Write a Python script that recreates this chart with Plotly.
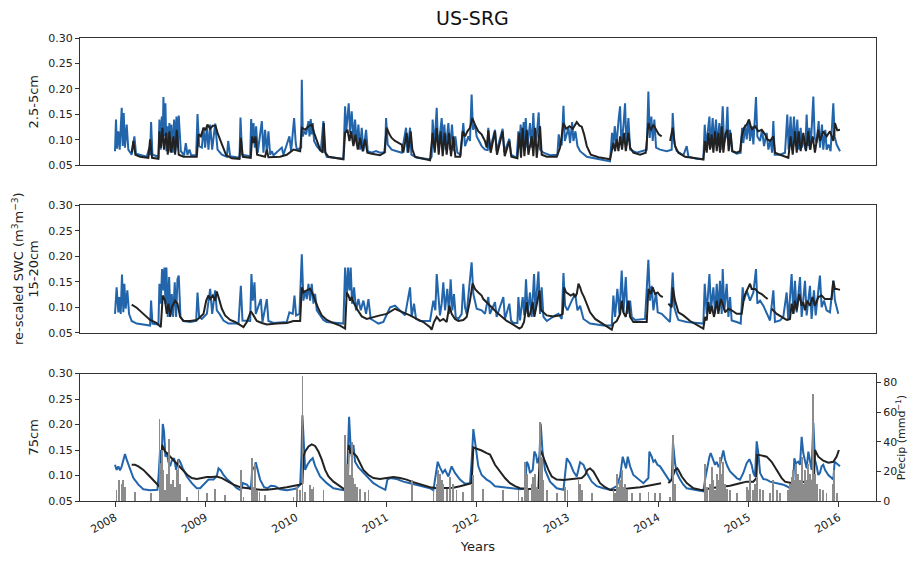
import pandas as pd
import plotly.graph_objects as go

# ---------------- DATA (decimal years, SWC m3/m3, precip mm/d) ----------------
P1_BLUE_T = [2008.000, 2008.011, 2008.022, 2008.037, 2008.052, 2008.074, 2008.085, 2008.096, 2008.110, 2008.129,
             2008.147, 2008.184, 2008.214, 2008.232, 2008.350, 2008.379, 2008.387, 2008.398, 2008.413, 2008.479,
             2008.490, 2008.505, 2008.516, 2008.527, 2008.534, 2008.545, 2008.556, 2008.567, 2008.578, 2008.589,
             2008.600, 2008.611, 2008.622, 2008.637, 2008.652, 2008.667, 2008.678, 2008.692, 2008.703, 2008.726,
             2008.762, 2008.781, 2008.799, 2008.821, 2008.840, 2008.895, 2008.910, 2008.928, 2008.958, 2008.976,
             2008.994, 2009.013, 2009.031, 2009.050, 2009.072, 2009.105, 2009.131, 2009.179, 2009.234, 2009.249,
             2009.271, 2009.374, 2009.385, 2009.403, 2009.492, 2009.503, 2009.517, 2009.529, 2009.543, 2009.558,
             2009.576, 2009.621, 2009.639, 2009.657, 2009.676, 2009.694, 2009.713, 2009.731, 2009.750, 2009.842,
             2009.860, 2009.926, 2009.945, 2009.978, 2009.996, 2010.008, 2010.056, 2010.063, 2010.074, 2010.089,
             2010.111, 2010.137, 2010.148, 2010.162, 2010.173, 2010.184, 2010.199, 2010.229, 2010.273, 2010.302,
             2010.317, 2010.339, 2010.523, 2010.542, 2010.553, 2010.568, 2010.582, 2010.597, 2010.615, 2010.634,
             2010.652, 2010.671, 2010.689, 2010.707, 2010.726, 2010.744, 2010.774, 2010.792, 2010.836, 2010.884,
             2010.929, 2010.984, 2010.995, 2011.013, 2011.057, 2011.113, 2011.168, 2011.216, 2011.231, 2011.260,
             2011.275, 2011.334, 2011.481, 2011.499, 2011.510, 2011.529, 2011.555, 2011.569, 2011.591, 2011.610,
             2011.625, 2011.640, 2011.654, 2011.684, 2011.702, 2011.724, 2011.743, 2011.761, 2011.783, 2011.820,
             2011.849, 2011.868, 2011.905, 2011.923, 2011.941, 2011.956, 2011.978, 2011.997, 2012.026, 2012.052,
             2012.089, 2012.118, 2012.125, 2012.143, 2012.199, 2012.217, 2012.283, 2012.302, 2012.357, 2012.376,
             2012.438, 2012.457, 2012.468, 2012.482, 2012.497, 2012.515, 2012.527, 2012.538, 2012.556, 2012.585,
             2012.604, 2012.622, 2012.637, 2012.659, 2012.681, 2012.696, 2012.733, 2012.806, 2012.887, 2012.902,
             2012.917, 2012.935, 2012.954, 2012.969, 2013.009, 2013.027, 2013.050, 2013.064, 2013.086, 2013.109,
             2013.138, 2013.212, 2013.322, 2013.469, 2013.491, 2013.506, 2013.521, 2013.540, 2013.562, 2013.580,
             2013.595, 2013.617, 2013.635, 2013.650, 2013.672, 2013.691, 2013.764, 2013.819, 2013.875, 2013.893,
             2013.908, 2013.926, 2013.941, 2013.959, 2013.978, 2014.022, 2014.096, 2014.151, 2014.162, 2014.180,
             2014.207, 2014.280, 2014.317, 2014.336, 2014.428, 2014.501, 2014.516, 2014.531, 2014.568, 2014.582,
             2014.604, 2014.619, 2014.641, 2014.656, 2014.678, 2014.693, 2014.715, 2014.730, 2014.752, 2014.767,
             2014.781, 2014.796, 2014.818, 2014.870, 2014.914, 2014.929, 2014.943, 2014.965, 2014.980, 2015.002,
             2015.017, 2015.039, 2015.054, 2015.083, 2015.098, 2015.128, 2015.150, 2015.172, 2015.201, 2015.220,
             2015.245, 2015.260, 2015.275, 2015.290, 2015.349, 2015.404, 2015.429, 2015.444, 2015.466, 2015.481,
             2015.503, 2015.522, 2015.540, 2015.555, 2015.577, 2015.592, 2015.614, 2015.628, 2015.643, 2015.658,
             2015.673, 2015.687, 2015.717, 2015.732, 2015.754, 2015.776, 2015.791, 2015.813, 2015.827, 2015.850,
             2015.864, 2015.886, 2015.908, 2015.938, 2015.953, 2015.975, 2016.012]
P1_BLUE_V = [0.078, 0.140, 0.083, 0.117, 0.081, 0.163, 0.088, 0.153, 0.085, 0.130,
             0.081, 0.071, 0.107, 0.073, 0.067, 0.085, 0.070, 0.135, 0.071, 0.067,
             0.140, 0.081, 0.146, 0.107, 0.184, 0.107, 0.172, 0.078, 0.127, 0.075,
             0.133, 0.078, 0.130, 0.075, 0.140, 0.078, 0.146, 0.085, 0.148, 0.078,
             0.070, 0.094, 0.071, 0.081, 0.070, 0.070, 0.151, 0.088, 0.085, 0.124,
             0.085, 0.127, 0.081, 0.130, 0.081, 0.132, 0.081, 0.071, 0.067, 0.098,
             0.068, 0.065, 0.144, 0.071, 0.068, 0.141, 0.094, 0.133, 0.085, 0.127,
             0.075, 0.137, 0.075, 0.120, 0.075, 0.117, 0.071, 0.078, 0.070, 0.085,
             0.071, 0.107, 0.078, 0.143, 0.094, 0.081, 0.085, 0.218, 0.107, 0.117,
             0.111, 0.137, 0.107, 0.141, 0.111, 0.133, 0.098, 0.088, 0.078, 0.137,
             0.078, 0.067, 0.063, 0.166, 0.114, 0.153, 0.172, 0.114, 0.156, 0.101,
             0.140, 0.091, 0.130, 0.081, 0.124, 0.078, 0.120, 0.078, 0.075, 0.078,
             0.075, 0.076, 0.143, 0.091, 0.081, 0.078, 0.075, 0.124, 0.075, 0.124,
             0.071, 0.065, 0.062, 0.067, 0.140, 0.085, 0.163, 0.091, 0.111, 0.143,
             0.088, 0.130, 0.081, 0.133, 0.081, 0.130, 0.078, 0.107, 0.075, 0.071,
             0.133, 0.088, 0.107, 0.098, 0.189, 0.120, 0.130, 0.107, 0.098, 0.088,
             0.081, 0.080, 0.124, 0.081, 0.120, 0.078, 0.122, 0.076, 0.102, 0.071,
             0.065, 0.117, 0.085, 0.130, 0.088, 0.135, 0.091, 0.143, 0.085, 0.133,
             0.085, 0.153, 0.091, 0.107, 0.154, 0.081, 0.075, 0.070, 0.071, 0.111,
             0.089, 0.091, 0.167, 0.098, 0.124, 0.094, 0.135, 0.098, 0.117, 0.088,
             0.078, 0.067, 0.063, 0.058, 0.114, 0.088, 0.127, 0.088, 0.137, 0.166,
             0.091, 0.127, 0.172, 0.088, 0.143, 0.081, 0.075, 0.078, 0.081, 0.195,
             0.104, 0.146, 0.098, 0.140, 0.085, 0.081, 0.078, 0.081, 0.153, 0.094,
             0.078, 0.070, 0.088, 0.067, 0.063, 0.062, 0.130, 0.085, 0.146, 0.085,
             0.143, 0.091, 0.140, 0.088, 0.133, 0.081, 0.166, 0.094, 0.107, 0.165,
             0.088, 0.120, 0.078, 0.073, 0.075, 0.124, 0.094, 0.130, 0.101, 0.140,
             0.098, 0.127, 0.091, 0.184, 0.107, 0.098, 0.120, 0.088, 0.114, 0.081,
             0.101, 0.075, 0.137, 0.071, 0.071, 0.075, 0.150, 0.081, 0.146, 0.081,
             0.146, 0.088, 0.140, 0.081, 0.124, 0.085, 0.104, 0.081, 0.150, 0.088,
             0.124, 0.081, 0.185, 0.104, 0.094, 0.137, 0.085, 0.130, 0.081, 0.120,
             0.081, 0.091, 0.078, 0.172, 0.107, 0.091, 0.078]

P1_BLACK_T = [2008.184, 2008.203, 2008.225, 2008.276, 2008.368, 2008.387, 2008.409, 2008.479, 2008.490, 2008.508,
              2008.523, 2008.541, 2008.564, 2008.582, 2008.600, 2008.619, 2008.645, 2008.663, 2008.681, 2008.703,
              2008.755, 2008.902, 2008.921, 2008.947, 2008.976, 2008.998, 2009.020, 2009.050, 2009.079, 2009.109,
              2009.131, 2009.160, 2009.190, 2009.227, 2009.289, 2009.374, 2009.389, 2009.411, 2009.499, 2009.514,
              2009.532, 2009.551, 2009.569, 2009.657, 2009.676, 2009.694, 2009.823, 2009.897, 2009.971, 2010.037,
              2010.045, 2010.063, 2010.100, 2010.137, 2010.173, 2010.199, 2010.229, 2010.265, 2010.295, 2010.306,
              2010.324, 2010.358, 2010.523, 2010.542, 2010.568, 2010.590, 2010.608, 2010.634, 2010.656, 2010.682,
              2010.707, 2010.737, 2010.763, 2010.788, 2010.836, 2010.928, 2010.976, 2011.002, 2011.032, 2011.057,
              2011.094, 2011.131, 2011.168, 2011.186, 2011.223, 2011.241, 2011.267, 2011.286, 2011.315, 2011.407,
              2011.481, 2011.510, 2011.533, 2011.555, 2011.577, 2011.599, 2011.621, 2011.643, 2011.665, 2011.691,
              2011.713, 2011.739, 2011.761, 2011.813, 2011.842, 2011.868, 2011.894, 2011.923, 2011.949, 2011.978,
              2012.015, 2012.051, 2012.088, 2012.107, 2012.125, 2012.151, 2012.199, 2012.221, 2012.283, 2012.306,
              2012.357, 2012.379, 2012.446, 2012.468, 2012.486, 2012.504, 2012.523, 2012.549, 2012.567, 2012.604,
              2012.622, 2012.641, 2012.659, 2012.696, 2012.714, 2012.770, 2012.880, 2012.917, 2012.954, 2012.983,
              2013.020, 2013.057, 2013.101, 2013.131, 2013.156, 2013.182, 2013.212, 2013.256, 2013.341, 2013.469,
              2013.506, 2013.525, 2013.543, 2013.562, 2013.580, 2013.602, 2013.624, 2013.643, 2013.672, 2013.691,
              2013.727, 2013.801, 2013.864, 2013.893, 2013.919, 2013.948, 2013.978, 2014.007, 2014.040, 2014.090,
              2014.133, 2014.162, 2014.188, 2014.225, 2014.299, 2014.428, 2014.501, 2014.520, 2014.538, 2014.557,
              2014.575, 2014.593, 2014.612, 2014.630, 2014.649, 2014.667, 2014.685, 2014.704, 2014.722, 2014.744,
              2014.767, 2014.781, 2014.803, 2014.822, 2014.870, 2014.906, 2014.925, 2014.951, 2014.980, 2015.006,
              2015.035, 2015.072, 2015.109, 2015.146, 2015.183, 2015.208, 2015.238, 2015.275, 2015.293, 2015.349,
              2015.441, 2015.466, 2015.489, 2015.514, 2015.533, 2015.555, 2015.577, 2015.606, 2015.636, 2015.662,
              2015.680, 2015.710, 2015.735, 2015.772, 2015.790, 2015.827, 2015.864, 2015.901, 2015.938, 2015.956,
              2015.982, 2016.012]
P1_BLACK_V = [0.075, 0.098, 0.071, 0.067, 0.065, 0.101, 0.065, 0.063, 0.117, 0.085,
              0.124, 0.081, 0.114, 0.071, 0.117, 0.075, 0.107, 0.071, 0.120, 0.071,
              0.067, 0.067, 0.111, 0.107, 0.124, 0.119, 0.130, 0.122, 0.128, 0.128,
              0.114, 0.101, 0.085, 0.070, 0.064, 0.063, 0.104, 0.067, 0.065, 0.107,
              0.094, 0.107, 0.071, 0.067, 0.081, 0.066, 0.067, 0.071, 0.081, 0.078,
              0.078, 0.124, 0.120, 0.127, 0.130, 0.114, 0.098, 0.081, 0.075, 0.133,
              0.075, 0.067, 0.062, 0.114, 0.120, 0.098, 0.117, 0.088, 0.111, 0.081,
              0.104, 0.078, 0.101, 0.075, 0.073, 0.070, 0.075, 0.124, 0.111, 0.104,
              0.098, 0.094, 0.091, 0.075, 0.114, 0.075, 0.117, 0.081, 0.067, 0.063,
              0.060, 0.114, 0.075, 0.124, 0.071, 0.117, 0.068, 0.114, 0.071, 0.114,
              0.068, 0.107, 0.067, 0.067, 0.117, 0.107, 0.117, 0.124, 0.143, 0.130,
              0.117, 0.111, 0.098, 0.085, 0.119, 0.075, 0.117, 0.071, 0.117, 0.068,
              0.098, 0.067, 0.064, 0.114, 0.065, 0.124, 0.068, 0.120, 0.071, 0.107,
              0.068, 0.124, 0.065, 0.127, 0.071, 0.067, 0.067, 0.085, 0.133, 0.122,
              0.127, 0.122, 0.135, 0.128, 0.126, 0.111, 0.088, 0.071, 0.066, 0.062,
              0.094, 0.078, 0.101, 0.078, 0.107, 0.081, 0.114, 0.078, 0.114, 0.085,
              0.075, 0.071, 0.075, 0.133, 0.119, 0.130, 0.120, 0.111, 0.107, None,
              0.098, 0.124, 0.088, 0.075, 0.067, 0.064, 0.062, 0.098, 0.075, 0.114,
              0.081, 0.111, 0.075, 0.117, 0.078, 0.114, 0.075, 0.127, 0.075, 0.111,
              0.120, 0.078, 0.114, 0.078, 0.075, 0.078, 0.107, 0.124, 0.130, 0.140,
              0.120, 0.127, 0.117, 0.120, 0.111, 0.101, 0.098, 0.107, 0.075, 0.071,
              0.065, 0.107, 0.071, 0.117, 0.075, 0.117, 0.078, 0.114, 0.078, 0.117,
              0.081, 0.107, 0.075, 0.120, 0.098, 0.117, 0.107, 0.117, 0.098, 0.133,
              0.119, 0.120]

P2_BLUE_T = [2008.000, 2008.018, 2008.037, 2008.048, 2008.063, 2008.077, 2008.092, 2008.103, 2008.118, 2008.136,
             2008.155, 2008.184, 2008.239, 2008.350, 2008.387, 2008.398, 2008.413, 2008.479, 2008.490, 2008.505,
             2008.519, 2008.534, 2008.545, 2008.556, 2008.567, 2008.582, 2008.597, 2008.611, 2008.626, 2008.641,
             2008.659, 2008.674, 2008.689, 2008.703, 2008.722, 2008.755, 2008.829, 2008.895, 2008.910, 2008.928,
             2008.958, 2009.013, 2009.050, 2009.072, 2009.105, 2009.123, 2009.153, 2009.197, 2009.252, 2009.363,
             2009.389, 2009.407, 2009.492, 2009.506, 2009.521, 2009.540, 2009.554, 2009.610, 2009.628, 2009.676,
             2009.694, 2009.750, 2009.897, 2009.926, 2009.963, 2009.982, 2010.000, 2010.037, 2010.063, 2010.081,
             2010.100, 2010.118, 2010.137, 2010.155, 2010.173, 2010.192, 2010.210, 2010.229, 2010.265, 2010.302,
             2010.339, 2010.523, 2010.542, 2010.560, 2010.575, 2010.590, 2010.604, 2010.619, 2010.641, 2010.663,
             2010.689, 2010.715, 2010.744, 2010.774, 2010.800, 2010.825, 2010.855, 2010.910, 2010.965, 2011.010,
             2011.039, 2011.094, 2011.149, 2011.205, 2011.260, 2011.278, 2011.304, 2011.326, 2011.370, 2011.481,
             2011.518, 2011.540, 2011.555, 2011.573, 2011.591, 2011.610, 2011.628, 2011.647, 2011.672, 2011.691,
             2011.709, 2011.728, 2011.746, 2011.765, 2011.794, 2011.831, 2011.849, 2011.868, 2011.886, 2011.941,
             2011.960, 2011.997, 2012.052, 2012.089, 2012.125, 2012.143, 2012.199, 2012.217, 2012.291, 2012.309,
             2012.357, 2012.376, 2012.401, 2012.446, 2012.457, 2012.475, 2012.504, 2012.523, 2012.541, 2012.560,
             2012.585, 2012.604, 2012.630, 2012.644, 2012.678, 2012.696, 2012.714, 2012.733, 2012.770, 2012.862,
             2012.899, 2012.935, 2012.954, 2012.972, 2012.998, 2013.046, 2013.083, 2013.109, 2013.138, 2013.175,
             2013.248, 2013.396, 2013.488, 2013.506, 2013.525, 2013.550, 2013.573, 2013.598, 2013.617, 2013.643,
             2013.661, 2013.691, 2013.709, 2013.746, 2013.856, 2013.893, 2013.911, 2013.930, 2013.948, 2013.978,
             2013.996, 2014.040, 2014.132, 2014.162, 2014.180, 2014.206, 2014.225, 2014.317, 2014.501, 2014.516,
             2014.538, 2014.568, 2014.586, 2014.612, 2014.630, 2014.649, 2014.667, 2014.685, 2014.704, 2014.715,
             2014.733, 2014.759, 2014.778, 2014.796, 2014.814, 2014.870, 2014.914, 2014.936, 2014.951, 2014.980,
             2015.017, 2015.054, 2015.083, 2015.098, 2015.128, 2015.164, 2015.201, 2015.238, 2015.275, 2015.293,
             2015.349, 2015.385, 2015.422, 2015.441, 2015.477, 2015.496, 2015.514, 2015.533, 2015.570, 2015.588,
             2015.625, 2015.643, 2015.680, 2015.698, 2015.724, 2015.743, 2015.790, 2015.809, 2015.835, 2015.864,
             2015.901, 2015.938, 2015.956, 2015.993]
P2_BLUE_V = [0.087, 0.139, 0.090, 0.120, 0.087, 0.164, 0.090, 0.146, 0.097, 0.133,
             0.087, 0.073, 0.068, 0.066, 0.064, 0.113, 0.068, 0.066, 0.146, 0.107,
             0.175, 0.133, 0.178, 0.107, 0.178, 0.081, 0.159, 0.084, 0.126, 0.081,
             0.149, 0.081, 0.155, 0.162, 0.081, 0.073, 0.071, 0.073, 0.129, 0.081,
             0.077, 0.087, 0.136, 0.087, 0.133, 0.094, 0.087, 0.074, 0.068, 0.068,
             0.142, 0.074, 0.073, 0.165, 0.113, 0.149, 0.087, 0.116, 0.071, 0.116,
             0.073, 0.069, 0.071, 0.090, 0.087, 0.123, 0.084, 0.087, 0.204, 0.113,
             0.133, 0.116, 0.146, 0.113, 0.146, 0.107, 0.126, 0.094, 0.084, 0.075,
             0.071, 0.068, 0.178, 0.120, 0.178, 0.133, 0.178, 0.107, 0.139, 0.094,
             0.116, 0.094, 0.113, 0.087, 0.116, 0.077, 0.074, 0.068, 0.071, 0.090,
             0.100, 0.103, 0.094, 0.084, 0.139, 0.081, 0.107, 0.077, 0.073, 0.073,
             0.113, 0.094, 0.165, 0.113, 0.084, 0.107, 0.149, 0.094, 0.136, 0.087,
             0.155, 0.094, 0.126, 0.081, 0.077, 0.087, 0.146, 0.100, 0.087, 0.188,
             0.126, 0.097, 0.094, 0.087, 0.120, 0.087, 0.110, 0.081, 0.120, 0.077,
             0.107, 0.074, 0.069, 0.069, 0.120, 0.074, 0.120, 0.084, 0.155, 0.087,
             0.129, 0.081, 0.165, 0.094, 0.170, 0.087, 0.139, 0.081, 0.073, 0.084,
             0.087, 0.077, 0.167, 0.103, 0.094, 0.113, 0.126, 0.094, 0.103, 0.077,
             0.068, 0.064, 0.064, 0.123, 0.081, 0.136, 0.087, 0.172, 0.090, 0.159,
             0.087, 0.113, 0.081, 0.075, 0.077, 0.193, 0.113, 0.142, 0.094, 0.129,
             0.090, 0.087, 0.071, 0.168, 0.100, 0.084, 0.075, 0.071, 0.068, 0.146,
             0.087, 0.165, 0.097, 0.139, 0.087, 0.146, 0.094, 0.152, 0.087, 0.175,
             0.094, 0.146, 0.081, 0.120, 0.074, 0.071, 0.068, 0.139, 0.113, 0.133,
             0.113, 0.129, 0.175, 0.107, 0.113, 0.103, 0.087, 0.074, 0.133, 0.071,
             0.074, 0.081, 0.129, 0.074, 0.165, 0.087, 0.152, 0.090, 0.159, 0.081,
             0.152, 0.084, 0.142, 0.077, 0.133, 0.084, 0.162, 0.100, 0.113, 0.094,
             0.090, 0.152, 0.113, 0.087]

P2_BLACK_T = [2008.184, 2008.239, 2008.313, 2008.387, 2008.460, 2008.505, 2008.527, 2008.552, 2008.571, 2008.589,
              2008.608, 2008.626, 2008.663, 2008.689, 2008.718, 2008.755, 2008.829, 2008.902, 2008.939, 2008.976,
              2009.006, 2009.031, 2009.050, 2009.079, 2009.105, 2009.123, 2009.153, 2009.179, 2009.215, 2009.271,
              2009.326, 2009.381, 2009.418, 2009.455, 2009.499, 2009.529, 2009.565, 2009.621, 2009.676, 2009.786,
              2009.897, 2009.971, 2010.045, 2010.063, 2010.081, 2010.118, 2010.155, 2010.184, 2010.210, 2010.247,
              2010.284, 2010.339, 2010.413, 2010.486, 2010.542, 2010.560, 2010.579, 2010.597, 2010.615, 2010.634,
              2010.671, 2010.726, 2010.781, 2010.855, 2010.928, 2011.002, 2011.057, 2011.094, 2011.131, 2011.186,
              2011.260, 2011.334, 2011.407, 2011.481, 2011.499, 2011.525, 2011.555, 2011.591, 2011.628, 2011.665,
              2011.695, 2011.720, 2011.757, 2011.794, 2011.849, 2011.886, 2011.923, 2011.952, 2011.978, 2012.015,
              2012.052, 2012.070, 2012.107, 2012.162, 2012.217, 2012.272, 2012.328, 2012.383, 2012.438, 2012.468,
              2012.493, 2012.519, 2012.549, 2012.567, 2012.585, 2012.615, 2012.633, 2012.659, 2012.689, 2012.707,
              2012.733, 2012.770, 2012.843, 2012.917, 2012.946, 2012.961, 2012.983, 2013.009, 2013.035, 2013.064,
              2013.083, 2013.101, 2013.120, 2013.138, 2013.156, 2013.182, 2013.212, 2013.248, 2013.304, 2013.359,
              2013.414, 2013.469, 2013.488, 2013.506, 2013.543, 2013.580, 2013.598, 2013.617, 2013.643, 2013.672,
              2013.691, 2013.727, 2013.801, 2013.875, 2013.893, 2013.919, 2013.941, 2013.967, 2013.996, 2014.022,
              2014.052, 2014.080, 2014.114, 2014.151, 2014.162, 2014.188, 2014.225, 2014.280, 2014.354, 2014.428,
              2014.483, 2014.501, 2014.520, 2014.538, 2014.557, 2014.575, 2014.593, 2014.619, 2014.649, 2014.667,
              2014.693, 2014.715, 2014.741, 2014.778, 2014.814, 2014.870, 2014.925, 2014.951, 2014.973, 2014.999,
              2015.017, 2015.035, 2015.072, 2015.109, 2015.146, 2015.183, 2015.212, 2015.230, 2015.256, 2015.312,
              2015.367, 2015.422, 2015.459, 2015.477, 2015.496, 2015.514, 2015.533, 2015.562, 2015.588, 2015.606,
              2015.625, 2015.650, 2015.680, 2015.709, 2015.735, 2015.772, 2015.809, 2015.846, 2015.883, 2015.919,
              2015.938, 2015.956, 2015.975, 2016.012]
P2_BLACK_V = [0.105, 0.099, 0.087, 0.075, 0.069, 0.061, 0.123, 0.113, 0.087, 0.107,
              0.081, 0.100, 0.113, 0.107, 0.081, 0.073, 0.073, 0.075, 0.081, 0.087,
              0.113, 0.123, 0.116, 0.123, 0.113, 0.131, 0.113, 0.097, 0.084, 0.075,
              0.071, 0.066, 0.061, 0.071, 0.092, 0.084, 0.073, 0.069, 0.066, 0.068,
              0.069, 0.073, 0.073, 0.139, 0.129, 0.133, 0.136, 0.126, 0.113, 0.097,
              0.084, 0.075, 0.069, 0.064, 0.058, 0.129, 0.123, 0.113, 0.120, 0.110,
              0.097, 0.082, 0.077, 0.081, 0.084, 0.087, 0.094, 0.097, 0.094, 0.090,
              0.084, 0.077, 0.071, 0.061, 0.056, 0.071, 0.081, 0.073, 0.077, 0.071,
              0.103, 0.087, 0.077, 0.073, 0.075, 0.081, 0.113, 0.147, 0.136, 0.129,
              0.123, 0.116, 0.110, 0.100, 0.090, 0.081, 0.073, 0.068, 0.061, 0.058,
              0.061, 0.071, 0.110, 0.081, 0.087, 0.110, 0.081, 0.107, 0.133, 0.094,
              0.090, 0.084, 0.082, 0.084, 0.087, 0.139, 0.129, 0.126, 0.123, 0.126,
              0.120, 0.126, 0.146, 0.139, 0.129, 0.120, 0.107, 0.090, 0.077, 0.071,
              0.064, 0.058, 0.056, 0.068, 0.073, 0.087, 0.113, 0.090, 0.081, 0.113,
              0.081, 0.071, 0.071, 0.071, 0.136, 0.126, 0.139, 0.126, 0.129, 0.123,
              0.120, None, 0.107, 0.100, 0.139, 0.113, 0.090, 0.084, 0.073, 0.066,
              0.061, 0.058, 0.081, 0.074, 0.110, 0.087, 0.103, 0.081, 0.113, 0.087,
              0.116, 0.107, 0.090, 0.097, 0.094, 0.087, 0.087, 0.120, 0.129, 0.139,
              0.146, 0.136, 0.136, 0.129, 0.126, 0.120, 0.116, None, 0.097, 0.087,
              0.081, 0.075, 0.077, 0.107, 0.087, 0.113, 0.094, 0.126, 0.103, 0.110,
              0.094, 0.113, 0.103, 0.120, 0.103, 0.120, 0.123, 0.116, 0.116, 0.116,
              0.152, 0.136, 0.136, 0.134]

P3_BLUE_T = [2008.000, 2008.018, 2008.037, 2008.055, 2008.074, 2008.092, 2008.110, 2008.129, 2008.166, 2008.203,
             2008.258, 2008.313, 2008.387, 2008.468, 2008.483, 2008.497, 2008.512, 2008.527, 2008.541, 2008.556,
             2008.571, 2008.589, 2008.608, 2008.626, 2008.652, 2008.674, 2008.700, 2008.718, 2008.748, 2008.792,
             2008.847, 2008.902, 2008.939, 2008.976, 2009.031, 2009.087, 2009.123, 2009.142, 2009.168, 2009.197,
             2009.241, 2009.289, 2009.344, 2009.389, 2009.411, 2009.455, 2009.499, 2009.517, 2009.536, 2009.554,
             2009.573, 2009.602, 2009.646, 2009.683, 2009.720, 2009.768, 2009.823, 2009.897, 2009.963, 2010.008,
             2010.045, 2010.059, 2010.070, 2010.085, 2010.100, 2010.125, 2010.155, 2010.184, 2010.210, 2010.265,
             2010.339, 2010.413, 2010.523, 2010.560, 2010.575, 2010.586, 2010.601, 2010.615, 2010.634, 2010.652,
             2010.689, 2010.744, 2010.800, 2010.855, 2010.928, 2010.987, 2011.010, 2011.039, 2011.113, 2011.186,
             2011.260, 2011.334, 2011.407, 2011.481, 2011.518, 2011.536, 2011.566, 2011.591, 2011.621, 2011.647,
             2011.684, 2011.720, 2011.757, 2011.812, 2011.868, 2011.923, 2011.941, 2011.960, 2011.978, 2012.015,
             2012.052, 2012.107, 2012.144, 2012.199, 2012.291, 2012.401, 2012.475, 2012.530, 2012.549, 2012.567,
             2012.585, 2012.615, 2012.633, 2012.652, 2012.667, 2012.689, 2012.703, 2012.722, 2012.751, 2012.806,
             2012.880, 2012.954, 2012.972, 2012.991, 2013.027, 2013.064, 2013.101, 2013.120, 2013.138, 2013.175,
             2013.212, 2013.267, 2013.322, 2013.396, 2013.469, 2013.543, 2013.580, 2013.609, 2013.628, 2013.646,
             2013.665, 2013.691, 2013.727, 2013.783, 2013.838, 2013.893, 2013.904, 2013.930, 2013.948, 2013.967,
             2013.993, 2014.022, 2014.059, 2014.096, 2014.132, 2014.151, 2014.165, 2014.188, 2014.207, 2014.243,
             2014.280, 2014.317, 2014.391, 2014.501, 2014.520, 2014.546, 2014.568, 2014.582, 2014.604, 2014.630,
             2014.649, 2014.667, 2014.685, 2014.704, 2014.722, 2014.741, 2014.767, 2014.796, 2014.833, 2014.870,
             2014.906, 2014.943, 2014.980, 2015.010, 2015.035, 2015.054, 2015.072, 2015.091, 2015.109, 2015.128,
             2015.164, 2015.201, 2015.238, 2015.312, 2015.385, 2015.422, 2015.459, 2015.496, 2015.507, 2015.525,
             2015.551, 2015.570, 2015.588, 2015.606, 2015.625, 2015.643, 2015.662, 2015.680, 2015.698, 2015.717,
             2015.735, 2015.754, 2015.772, 2015.790, 2015.809, 2015.827, 2015.846, 2015.883, 2015.919, 2015.938,
             2015.953, 2015.975, 2015.993, 2016.012]
P3_BLUE_V = [0.121, 0.111, 0.118, 0.110, 0.118, 0.132, 0.142, 0.131, 0.111, 0.095,
             0.082, 0.073, 0.071, 0.072, 0.105, 0.150, 0.124, 0.201, 0.186, 0.137,
             0.145, 0.127, 0.118, 0.129, 0.134, 0.111, 0.132, 0.127, 0.114, 0.098,
             0.085, 0.075, 0.075, 0.082, 0.092, 0.092, 0.099, 0.114, 0.110, 0.101,
             0.092, 0.085, 0.075, 0.071, 0.085, 0.082, 0.073, 0.116, 0.113, 0.126,
             0.111, 0.092, 0.077, 0.075, 0.080, 0.079, 0.073, 0.071, 0.073, 0.075,
             0.082, 0.137, 0.218, 0.150, 0.111, 0.121, 0.129, 0.134, 0.119, 0.098,
             0.085, 0.075, 0.071, 0.075, 0.170, 0.215, 0.163, 0.137, 0.160, 0.127,
             0.116, 0.106, 0.095, 0.085, 0.077, 0.072, 0.092, 0.095, 0.093, 0.088,
             0.085, 0.082, 0.079, 0.075, 0.071, 0.092, 0.127, 0.116, 0.105, 0.111,
             0.098, 0.118, 0.105, 0.092, 0.084, 0.085, 0.127, 0.191, 0.170, 0.118,
             0.101, 0.092, 0.088, 0.079, 0.077, 0.075, 0.073, 0.075, 0.127, 0.121,
             0.105, 0.111, 0.147, 0.140, 0.124, 0.137, 0.202, 0.150, 0.111, 0.088,
             0.075, 0.072, 0.105, 0.134, 0.124, 0.108, 0.098, 0.111, 0.126, 0.121,
             0.105, 0.088, 0.079, 0.075, 0.072, 0.079, 0.098, 0.137, 0.124, 0.114,
             0.137, 0.118, 0.101, 0.092, 0.085, 0.095, 0.147, 0.137, 0.127, 0.130,
             0.121, 0.118, 0.108, 0.098, 0.088, 0.092, 0.165, 0.124, 0.105, 0.092,
             0.082, 0.075, 0.072, 0.069, 0.092, 0.121, 0.137, 0.144, 0.134, 0.121,
             0.127, 0.118, 0.121, 0.137, 0.149, 0.131, 0.118, 0.108, 0.101, 0.095,
             0.092, 0.105, 0.124, 0.132, 0.121, 0.105, 0.098, 0.167, 0.144, 0.105,
             0.093, 0.092, 0.088, 0.085, 0.082, 0.079, 0.075, 0.092, 0.134, 0.124,
             0.127, 0.121, 0.176, 0.144, 0.127, 0.114, 0.147, 0.124, 0.111, 0.204,
             0.131, 0.118, 0.101, 0.105, 0.118, 0.121, 0.111, 0.101, 0.095, 0.092,
             0.127, 0.124, 0.121, 0.118]

P3_BLACK_T = [2008.184, 2008.221, 2008.258, 2008.313, 2008.368, 2008.424, 2008.479, 2008.508, 2008.519, 2008.552,
              2008.571, 2008.608, 2008.645, 2008.681, 2008.718, 2008.755, 2008.799, 2008.847, 2008.902, 2008.958,
              2009.013, 2009.068, 2009.123, 2009.179, 2009.234, 2009.308, 2009.381, 2009.455, 2009.529, 2009.602,
              2009.676, 2009.750, 2009.823, 2009.897, 2009.971, 2010.037, 2010.070, 2010.081, 2010.100, 2010.137,
              2010.173, 2010.210, 2010.247, 2010.284, 2010.321, 2010.358, 2010.413, 2010.486, 2010.542, 2010.571,
              2010.582, 2010.604, 2010.634, 2010.671, 2010.707, 2010.744, 2010.800, 2010.855, 2010.928, 2011.002,
              2011.076, 2011.149, 2011.223, 2011.278, 2011.334, 2011.407, 2011.481, 2011.555, 2011.665, 2011.739,
              2011.812, 2011.886, 2011.941, 2011.960, 2011.997, 2012.052, 2012.107, 2012.144, 2012.199, 2012.254,
              2012.309, 2012.364, 2012.420, 2012.475, 2012.549, 2012.678, 2012.696, 2012.714, 2012.751, 2012.788,
              2012.825, 2012.880, 2012.954, 2013.027, 2013.101, 2013.156, 2013.193, 2013.219, 2013.248, 2013.285,
              2013.322, 2013.359, 2013.414, 2013.469, 2013.506, 2013.580, 2013.691, 2013.801, 2013.875, 2013.948,
              2014.033, 2014.075, 2014.114, 2014.151, 2014.188, 2014.213, 2014.225, 2014.262, 2014.317, 2014.391,
              2014.464, 2014.501, 2014.575, 2014.685, 2014.796, 2014.906, 2014.980, 2015.054, 2015.087, 2015.098,
              2015.146, 2015.201, 2015.256, 2015.312, 2015.367, 2015.404, 2015.459, 2015.533, 2015.606, 2015.662,
              2015.724, 2015.735, 2015.772, 2015.827, 2015.883, 2015.938, 2015.975, 2016.000]
P3_BLACK_V = [0.121, 0.121, 0.118, 0.111, 0.101, 0.090, 0.079, 0.075, 0.160, 0.147,
              0.144, 0.137, 0.131, 0.124, 0.118, 0.111, 0.101, 0.095, 0.093, 0.095,
              0.097, 0.097, 0.098, 0.095, 0.090, 0.082, 0.077, 0.075, 0.074, 0.072,
              0.072, 0.073, 0.075, 0.077, 0.080, 0.082, 0.085, 0.137, 0.147, 0.157,
              0.161, 0.158, 0.147, 0.131, 0.111, 0.098, 0.088, 0.079, 0.072, 0.071,
              0.160, 0.144, 0.144, 0.137, 0.124, 0.111, 0.101, 0.095, 0.093, 0.095,
              0.097, 0.095, 0.092, 0.088, 0.085, 0.082, 0.077, 0.075, 0.075, 0.076,
              0.079, 0.082, 0.085, 0.155, 0.153, 0.149, 0.144, 0.141, 0.121, 0.108,
              0.095, 0.085, 0.079, 0.075, 0.073, 0.075, 0.150, 0.144, 0.127, 0.111,
              0.098, 0.092, 0.091, 0.093, 0.094, 0.095, 0.101, 0.111, 0.114, 0.108,
              0.095, 0.085, 0.077, 0.072, 0.071, 0.073, 0.075, 0.077, 0.079, 0.082,
              0.085, None, 0.085, 0.092, 0.111, 0.114, 0.111, 0.098, 0.085, 0.075,
              0.072, 0.071, 0.075, 0.077, 0.080, 0.085, 0.088, 0.088, 0.095, 0.141,
              0.139, 0.137, 0.127, 0.111, 0.095, 0.088, 0.086, 0.086, 0.087, 0.088,
              0.090, 0.150, 0.137, 0.129, 0.125, 0.127, 0.137, 0.150]

PRECIP_T = [2008.018, 2008.048, 2008.074, 2008.092, 2008.110, 2008.221, 2008.394, 2008.490, 2008.508, 2008.519,
            2008.534, 2008.552, 2008.571, 2008.597, 2008.615, 2008.637, 2008.663, 2008.681, 2008.700, 2008.718,
            2008.792, 2008.921, 2009.013, 2009.105, 2009.215, 2009.389, 2009.418, 2009.510, 2009.529, 2009.547,
            2009.565, 2009.595, 2009.657, 2009.971, 2010.008, 2010.045, 2010.070, 2010.100, 2010.155, 2010.173,
            2010.192, 2010.302, 2010.542, 2010.560, 2010.579, 2010.597, 2010.619, 2010.634, 2010.652, 2010.671,
            2010.707, 2010.763, 2010.800, 2011.278, 2011.518, 2011.555, 2011.573, 2011.591, 2011.610, 2011.628,
            2011.665, 2011.702, 2011.739, 2011.775, 2011.849, 2011.941, 2011.960, 2012.070, 2012.291, 2012.457,
            2012.493, 2012.530, 2012.549, 2012.567, 2012.604, 2012.622, 2012.641, 2012.659, 2012.678, 2012.696,
            2012.714, 2012.733, 2012.770, 2012.880, 2012.972, 2012.998, 2013.120, 2013.138, 2013.156, 2013.267,
            2013.506, 2013.525, 2013.543, 2013.562, 2013.580, 2013.598, 2013.617, 2013.635, 2013.654, 2013.709,
            2013.801, 2013.893, 2013.967, 2014.022, 2014.132, 2014.162, 2014.188, 2014.520, 2014.538, 2014.575,
            2014.593, 2014.612, 2014.630, 2014.649, 2014.667, 2014.685, 2014.704, 2014.722, 2014.741, 2014.759,
            2014.796, 2014.870, 2014.980, 2014.999, 2015.017, 2015.046, 2015.072, 2015.091, 2015.128, 2015.164,
            2015.238, 2015.275, 2015.312, 2015.349, 2015.441, 2015.459, 2015.477, 2015.496, 2015.514, 2015.525,
            2015.551, 2015.570, 2015.588, 2015.606, 2015.625, 2015.643, 2015.662, 2015.680, 2015.698, 2015.717,
            2015.735, 2015.754, 2015.790, 2015.827, 2015.864, 2015.938, 2015.949, 2015.975]
PRECIP_V = [7.6, 14.3, 12.1, 14.8, 9.9, 6.5, 5.4, 55.8, 18.8, 34.5,
            21.1, 7.6, 18.8, 42.4, 12.1, 14.3, 9.9, 21.1, 27.8, 12.1,
            3.1, 7.6, 5.4, 8.7, 4.3, 21.1, 3.1, 29.1, 9.9, 25.5,
            7.6, 6.5, 4.3, 3.1, 9.9, 7.6, 85.0, 6.5, 11.0, 8.7,
            9.9, 7.6, 45.0, 25.0, 34.5, 18.0, 40.0, 16.0, 12.0, 10.0,
            8.7, 6.5, 7.6, 14.3, 7.6, 12.1, 21.1, 18.8, 14.3, 12.1,
            8.7, 16.6, 12.1, 7.6, 6.5, 11.0, 18.0, 8.7, 7.6, 7.6,
            3.1, 26.7, 18.8, 7.6, 12.1, 16.6, 18.8, 9.9, 7.6, 53.6,
            30.0, 14.3, 7.6, 5.4, 9.9, 7.6, 14.3, 12.1, 7.6, 5.4,
            7.6, 5.4, 18.8, 9.9, 14.3, 21.1, 9.9, 12.1, 8.7, 5.4,
            5.4, 6.5, 5.4, 5.4, 3.1, 44.6, 12.1, 25.5, 9.9, 12.1,
            23.3, 14.3, 7.6, 18.8, 14.3, 30.0, 18.8, 26.7, 12.1, 8.7,
            7.6, 5.4, 9.9, 7.6, 18.8, 7.6, 12.1, 16.6, 8.7, 7.6,
            5.4, 14.3, 7.6, 5.4, 7.6, 12.1, 16.6, 21.1, 14.3, 25.5,
            18.8, 14.3, 30.0, 12.1, 21.1, 14.3, 25.5, 18.8, 14.3, 72.6,
            18.8, 12.1, 8.7, 7.6, 5.4, 12.1, 21.1, 5.4]

YEAR_TICKS = [2008, 2009, 2010, 2011, 2012, 2013, 2014, 2015, 2016]
DEPTH_LABELS = ["2.5-5cm", "15-20cm", "75cm"]


def to_dates(ts):
    out = []
    for t in ts:
        yr = int(t)
        start = pd.Timestamp(year=yr, month=1, day=1)
        ndays = pd.Timestamp(year=yr, month=12, day=31).dayofyear
        out.append(start + pd.Timedelta(days=(t - yr) * ndays))
    return out


BLUE = "#2265ab"
BLACK = "#222222"
FONT = "DejaVu Sans"

fig = go.Figure()

fig.add_trace(go.Bar(x=to_dates(PRECIP_T), y=PRECIP_V, marker=dict(color="#8c8c8c", line=dict(width=0)),
                     width=3 * 86400000, xaxis="x3", yaxis="y4", showlegend=False))

series = [(P1_BLUE_T, P1_BLUE_V, BLUE, "x", "y"), (P1_BLACK_T, P1_BLACK_V, BLACK, "x", "y"),
          (P2_BLUE_T, P2_BLUE_V, BLUE, "x2", "y2"), (P2_BLACK_T, P2_BLACK_V, BLACK, "x2", "y2"),
          (P3_BLUE_T, P3_BLUE_V, BLUE, "x3", "y3"), (P3_BLACK_T, P3_BLACK_V, BLACK, "x3", "y3")]
for t, v, c, xa, ya in series:
    fig.add_trace(go.Scatter(x=to_dates(t), y=v, mode="lines", line=dict(color=c, width=2),
                             connectgaps=False, xaxis=xa, yaxis=ya, showlegend=False))

# page has an 8px body offset: figure is 908x555 so it fits the 916x563 window exactly,
# and margins place the plot box at 80..876 x 38..503 on the page
FW, FH = 908, 555
ML, MR, MT, MB = 72, 40, 30, 60
H = FH - MT - MB
W = FW - ML - MR
xr = to_dates([2007.613, 2016.409])
doms = [[(503 - 166) / H, 1.0], [(503 - 334) / H, (503 - 206) / H], [0.0, (503 - 375) / H]]

xcommon = dict(type="date", range=xr, showline=True, mirror=True, linecolor="#333", linewidth=1,
               showgrid=False, zeroline=False)
ycommon = dict(range=[0.05, 0.30], tick0=0.05, dtick=0.05, tickformat=".2f", ticks="outside", ticklen=4,
               tickcolor="#333", showline=True, mirror=True, linecolor="#333", linewidth=1, showgrid=False,
               zeroline=False, tickfont=dict(size=11, family=FONT, color="#222"))

layout = dict(
    width=FW, height=FH, plot_bgcolor="white", paper_bgcolor="white",
    margin=dict(l=ML, r=MR, t=MT, b=MB),
    font=dict(family=FONT, color="#222"),
    bargap=0,
)
layout["xaxis"] = dict(xcommon, anchor="y", showticklabels=False, ticks="")
layout["xaxis2"] = dict(xcommon, anchor="y2", showticklabels=False, ticks="")
layout["xaxis3"] = dict(xcommon, anchor="y3", ticks="outside", ticklen=5, tickcolor="#333",
                        tickvals=to_dates(YEAR_TICKS), ticktext=[str(y) for y in YEAR_TICKS],
                        tickangle=-30, tickfont=dict(size=11, family=FONT, color="#222"),
                        title=dict(text="Years", font=dict(size=13, family=FONT), standoff=6))
for i, name in enumerate(["yaxis", "yaxis2", "yaxis3"]):
    layout[name] = dict(ycommon, domain=doms[i], anchor=["x", "x2", "x3"][i],
                        title=dict(text=DEPTH_LABELS[i], font=dict(size=13, family=FONT), standoff=6))
layout["yaxis4"] = dict(overlaying="y3", side="right", anchor="x3", range=[0, 86.1], tick0=0, dtick=20,
                        ticks="outside", ticklen=4, tickcolor="#333", showgrid=False, zeroline=False,
                        showline=True, linecolor="#333", linewidth=1,
                        tickfont=dict(size=11, family=FONT, color="#222"))
fig.update_layout(**layout)

fig.add_annotation(text="US-SRG", xref="paper", yref="paper", x=(472 - 80) / W, y=1 + (38 - 18) / H,
                   showarrow=False, font=dict(size=19, family=FONT, color="#111"),
                   xanchor="center", yanchor="middle")
fig.add_annotation(text="re-scaled SWC (m<sup>3</sup>m<sup>−3</sup>)", xref="paper", yref="paper",
                   x=(18 - 80) / W, y=(503 - 270) / H, textangle=-90, showarrow=False,
                   font=dict(size=13, family=FONT, color="#222"), xanchor="center", yanchor="middle")
fig.add_annotation(text="Precip (mmd<sup>−1</sup>)", xref="paper", yref="paper",
                   x=(901 - 80) / W, y=(503 - 440) / H, textangle=-90, showarrow=False,
                   font=dict(size=11, family=FONT, color="#222"), xanchor="center", yanchor="middle")

fig.write_html("out.html")
